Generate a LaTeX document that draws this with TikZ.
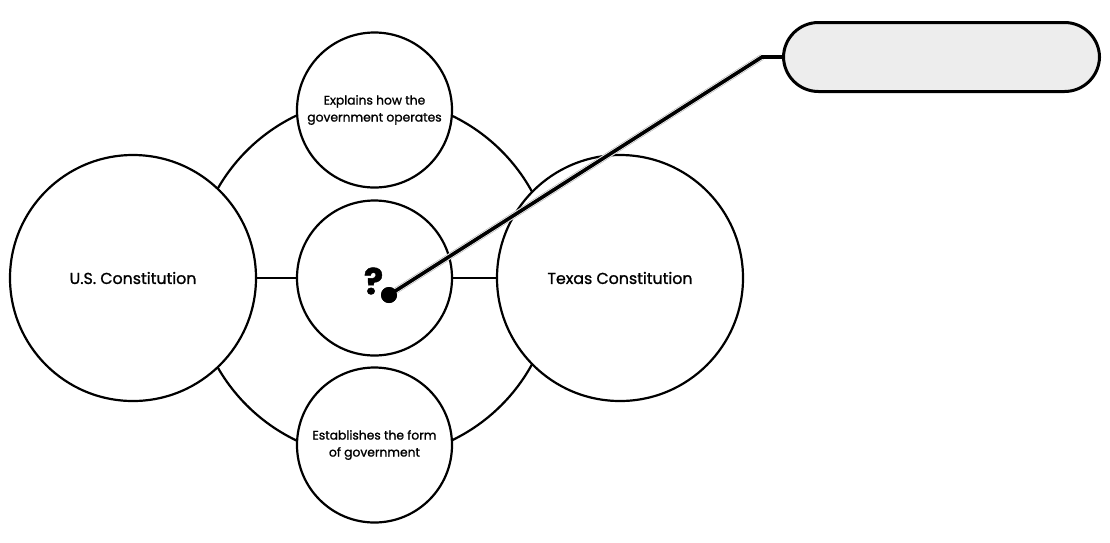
\documentclass[tikz,border=0pt]{standalone}
\usepackage{fontspec}
\setmainfont{Poppins}[FakeBold=1.2]
\begin{document}
\begin{tikzpicture}[x=1pt,y=-1pt,
  circ/.style={circle,draw=black,line width=2.2pt,fill=white,inner sep=0pt,align=center},
  link/.style={line width=2.2pt,draw=black},
  bigtxt/.style={font=\fontsize{15.8}{18}\selectfont},
  smalltxt/.style={font=\fontsize{12.3}{17}\selectfont},
]
\useasboundingbox (0,0) rectangle (1110,542);
\node[circ,minimum size=360pt] (ring) at (374,278) {};
\node[circ,minimum size=246pt,bigtxt] (us) at (133,278) {U.S. Constitution};
\node[circ,minimum size=246pt,bigtxt] (tx) at (620,278) {Texas Constitution};
\node[circ,minimum size=155pt,smalltxt] (top) at (374.5,110) {Explains how the\\government operates};
\node[circ,minimum size=155pt] (mid) at (374.5,278) {};
\node[circ,minimum size=155pt,smalltxt] (bot) at (374.5,445) {Establishes the form\\of government};
\draw[link] (us.east) -- (mid.west);
\draw[link] (mid.east) -- (tx.west);
\node[font=\fontsize{36}{38}\selectfont\bfseries] (q) at (373.5,281) {?};
\node[rounded corners=35pt,draw=black,line width=3pt,fill=black!7,minimum width=316pt,minimum height=69pt] (callout) at (941.5,57) {};
\node[circle,fill=black,inner sep=0pt,minimum size=16pt] (dot) at (389,295) {};
\coordinate (bend) at (762,57);
\draw[line width=6pt,black!35] (dot.center) -- (bend);
\draw[line width=5pt,white] (dot.center) -- (bend);
\draw[line width=3.6pt,black] (dot.center) -- (bend) -- (callout.west);
\node[circle,fill=black,inner sep=0pt,minimum size=16pt] at (dot) {};
\end{tikzpicture}
\end{document}
